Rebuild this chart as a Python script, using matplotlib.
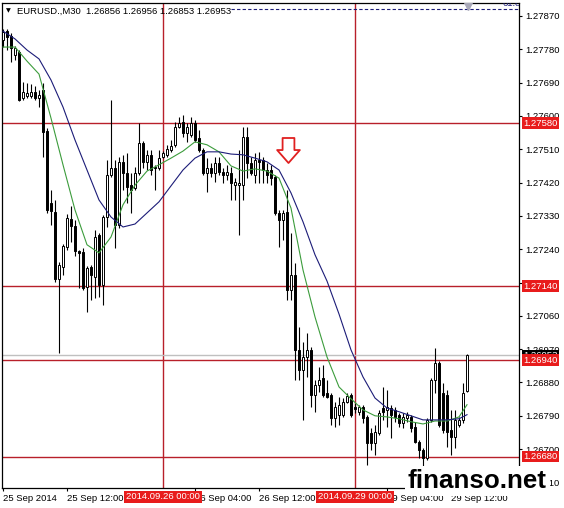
import matplotlib
matplotlib.use("Agg")
import matplotlib.pyplot as plt
from matplotlib.path import Path
from matplotlib.transforms import blended_transform_factory

plt.rcParams['font.family'] = ['Liberation Sans', 'DejaVu Sans']

# EURUSD M30, 25 Sep 04:00 .. 29 Sep 14:00 (bar index 0..116)
opens = [1.27805, 1.27829, 1.27816, 1.27765, 1.27773, 1.27648, 1.27654, 1.27654, 1.27665, 1.27648,
         1.27670, 1.27559, 1.27365, 1.27341, 1.27160, 1.27192, 1.27246, 1.27322, 1.27303, 1.27235,
         1.27233, 1.27138, 1.27192, 1.27165, 1.27279, 1.27144, 1.27327, 1.27441, 1.27459, 1.27306,
         1.27476, 1.27446, 1.27413, 1.27405, 1.27446, 1.27527, 1.27476, 1.27495, 1.27462, 1.27459,
         1.27489, 1.27495, 1.27508, 1.27522, 1.27570, 1.27584, 1.27554, 1.27549, 1.27581, 1.27540,
         1.27508, 1.27446, 1.27459, 1.27446, 1.27473, 1.27449, 1.27441, 1.27446, 1.27413, 1.27413,
         1.27413, 1.27543, 1.27473, 1.27441, 1.27481, 1.27481, 1.27454, 1.27454, 1.27435, 1.27338,
         1.27319, 1.27341, 1.27130, 1.27171, 1.26968, 1.26914, 1.26949, 1.26968, 1.26847, 1.26874,
         1.26892, 1.26852, 1.26847, 1.26784, 1.26793, 1.26793, 1.26828, 1.26847, 1.26814, 1.26801,
         1.26814, 1.26787, 1.26744, 1.26717, 1.26744, 1.26811, 1.26806, 1.26811, 1.26806, 1.26793,
         1.26771, 1.26784, 1.26787, 1.26760, 1.26720, 1.26698, 1.26676, 1.26779, 1.26887, 1.26933,
         1.26852, 1.26847, 1.26752, 1.26733, 1.26765, 1.26779, 1.26856]
highs = [1.27835, 1.27835, 1.27824, 1.27789, 1.27778, 1.27692, 1.27689, 1.27686, 1.27681, 1.27670,
         1.27689, 1.27567, 1.27400, 1.27373, 1.27206, 1.27254, 1.27335, 1.27357, 1.27319, 1.27238,
         1.27243, 1.27195, 1.27198, 1.27292, 1.27284, 1.27333, 1.27481, 1.27643, 1.27481, 1.27489,
         1.27495, 1.27500, 1.27446, 1.27462, 1.27581, 1.27532, 1.27508, 1.27508, 1.27468, 1.27508,
         1.27505, 1.27522, 1.27535, 1.27584, 1.27597, 1.27603, 1.27581, 1.27597, 1.27589, 1.27562,
         1.27513, 1.27486, 1.27473, 1.27489, 1.27489, 1.27459, 1.27468, 1.27462, 1.27432, 1.27508,
         1.27570, 1.27570, 1.27489, 1.27500, 1.27503, 1.27489, 1.27473, 1.27468, 1.27441, 1.27346,
         1.27346, 1.27400, 1.27284, 1.27203, 1.27030, 1.26990, 1.27014, 1.26976, 1.26887, 1.26922,
         1.26928, 1.26887, 1.26852, 1.26828, 1.26841, 1.26838, 1.26852, 1.26852, 1.26825, 1.26820,
         1.26820, 1.26793, 1.26757, 1.26765, 1.26806, 1.26868, 1.26860, 1.26820, 1.26814, 1.26798,
         1.26798, 1.26801, 1.26793, 1.26774, 1.26725, 1.26703, 1.26784, 1.26892, 1.26973, 1.26938,
         1.26879, 1.26860, 1.26806, 1.26806, 1.26787, 1.26879, 1.26956]
lows = [1.27786, 1.27778, 1.27746, 1.27751, 1.27640, 1.27643, 1.27648, 1.27648, 1.27643, 1.27624,
        1.27489, 1.27338, 1.27306, 1.27152, 1.26960, 1.27171, 1.27238, 1.27260, 1.27222, 1.27135,
        1.27130, 1.27071, 1.27103, 1.27108, 1.27111, 1.27090, 1.27300, 1.27435, 1.27243, 1.27297,
        1.27400, 1.27365, 1.27338, 1.27400, 1.27441, 1.27459, 1.27454, 1.27441, 1.27400, 1.27454,
        1.27486, 1.27489, 1.27503, 1.27516, 1.27567, 1.27543, 1.27530, 1.27543, 1.27530, 1.27503,
        1.27441, 1.27395, 1.27435, 1.27422, 1.27441, 1.27419, 1.27427, 1.27373, 1.27373, 1.27279,
        1.27373, 1.27432, 1.27441, 1.27419, 1.27419, 1.27419, 1.27419, 1.27413, 1.27333, 1.27246,
        1.27265, 1.27103, 1.27103, 1.26887, 1.26887, 1.26779, 1.26895, 1.26814, 1.26801, 1.26855,
        1.26841, 1.26838, 1.26765, 1.26760, 1.26765, 1.26787, 1.26825, 1.26787, 1.26798, 1.26793,
        1.26771, 1.26657, 1.26698, 1.26685, 1.26738, 1.26779, 1.26760, 1.26730, 1.26774, 1.26760,
        1.26757, 1.26774, 1.26747, 1.26717, 1.26676, 1.26622, 1.26671, 1.26774, 1.26852, 1.26760,
        1.26744, 1.26706, 1.26685, 1.26703, 1.26760, 1.26771, 1.26853]
closes = [1.27827, 1.27813, 1.27783, 1.27783, 1.27643, 1.27665, 1.27662, 1.27665, 1.27648, 1.27657,
          1.27557, 1.27346, 1.27343, 1.27160, 1.27198, 1.27249, 1.27324, 1.27303, 1.27235, 1.27230,
          1.27135, 1.27189, 1.27171, 1.27273, 1.27144, 1.27327, 1.27441, 1.27459, 1.27306, 1.27476,
          1.27446, 1.27408, 1.27400, 1.27446, 1.27527, 1.27476, 1.27495, 1.27454, 1.27459, 1.27486,
          1.27500, 1.27511, 1.27519, 1.27570, 1.27581, 1.27554, 1.27570, 1.27581, 1.27535, 1.27508,
          1.27446, 1.27459, 1.27446, 1.27473, 1.27449, 1.27441, 1.27449, 1.27419, 1.27422, 1.27419,
          1.27543, 1.27473, 1.27446, 1.27481, 1.27476, 1.27454, 1.27441, 1.27432, 1.27338, 1.27319,
          1.27338, 1.27130, 1.27171, 1.26968, 1.26914, 1.26949, 1.26968, 1.26847, 1.26874, 1.26887,
          1.26847, 1.26841, 1.26784, 1.26814, 1.26820, 1.26828, 1.26844, 1.26793, 1.26809, 1.26814,
          1.26784, 1.26717, 1.26717, 1.26747, 1.26798, 1.26801, 1.26814, 1.26793, 1.26787, 1.26771,
          1.26787, 1.26793, 1.26757, 1.26720, 1.26698, 1.26676, 1.26779, 1.26887, 1.26933, 1.26765,
          1.26752, 1.26747, 1.26733, 1.26779, 1.26779, 1.26852, 1.26953]

# moving averages every 3rd bar
ma_idx = list(range(0, 115, 3)) + [116]
ma_fast = [1.27786, 1.27786, 1.27748, 1.27713, 1.27594, 1.27468, 1.27346, 1.27252, 1.27230, 1.27273,
           1.27360, 1.27413, 1.27451, 1.27468, 1.27486, 1.27505, 1.27530, 1.27522, 1.27503, 1.27465,
           1.27451, 1.27457, 1.27451, 1.27432, 1.27351, 1.27184, 1.27057, 1.26949, 1.26868, 1.26836,
           1.26806, 1.26790, 1.26787, 1.26782, 1.26774, 1.26768, 1.26776, 1.26776, 1.26787, 1.26820]
ma_slow = [1.27829, 1.27808, 1.27778, 1.27754, 1.27697, 1.27624, 1.27535, 1.27454, 1.27373, 1.27327,
           1.27300, 1.27308, 1.27338, 1.27368, 1.27411, 1.27454, 1.27486, 1.27503, 1.27503, 1.27497,
           1.27495, 1.27486, 1.27476, 1.27454, 1.27392, 1.27314, 1.27225, 1.27154, 1.27065, 1.26968,
           1.26895, 1.26838, 1.26811, 1.26801, 1.26790, 1.26779, 1.26779, 1.26779, 1.26782, 1.26793]

levels = [1.27580, 1.27140, 1.26940, 1.26680]
vlines_bars = [40, 88]
vlines_labels = ["2014.09.26 00:00", "2014.09.29 00:00"]
bid = 1.26953
fib_price = 1.27889
fib_start = 57

# 25 Sep 20:00 and 26 Sep 20:00 sit fully under the red date boxes
tick_bars = [0, 16, 48, 64, 96, 112]
tick_labels = ["25 Sep 2014", "25 Sep 12:00", "26 Sep 04:00",
               "26 Sep 12:00", "29 Sep 04:00", "29 Sep 12:00"]
price_ticks = [1.26610 + 0.0009 * k for k in range(15)]

red_line = '#b8202a'
red_box = '#e81c1c'
navy = '#1c1c78'
green = '#3c9c3c'

fig = plt.figure(figsize=(5.64, 5.08), dpi=100)
ax = fig.add_axes([2 / 564, 20 / 508, 517 / 564, 485 / 508])
ax.set_xlim(-0.25, 129.0)
ax.set_ylim(1.26595, 1.27905)

for s in ax.spines.values():
    s.set_color('black')
    s.set_linewidth(0.9)

# red level lines
for p in levels:
    ax.axhline(p, color=red_line, lw=1.0, zorder=1)
for b in vlines_bars:
    ax.axvline(b, color=red_line, lw=1.0, zorder=1)
ax.axhline(bid, color='#c0c0c0', lw=1.0, zorder=1)
ax.plot([fib_start, 129], [fib_price, fib_price], color=navy, lw=0.8,
        dashes=(3, 2), zorder=1)

# candles
bars = list(range(len(opens)))
ax.vlines(bars, lows, highs, color='black', lw=0.8, zorder=3)
body_h = [c - o for o, c in zip(opens, closes)]
colors = ['white' if c >= o else 'black' for o, c in zip(opens, closes)]
ax.bar(bars, body_h, bottom=opens, width=0.6, color=colors,
       edgecolor='black', linewidth=0.7, zorder=4)

# moving averages
ax.plot(ma_idx, ma_fast, color=green, lw=0.8, zorder=5)
ax.plot(ma_idx, ma_slow, color=navy, lw=0.8, zorder=5)

# down arrow
arrow = Path([(-0.26, 0.55), (0.26, 0.55), (0.26, 0.02), (0.5, 0.02),
              (0.0, -0.55), (-0.5, 0.02), (-0.26, 0.02), (-0.26, 0.55)],
             [Path.MOVETO] + [Path.LINETO] * 6 + [Path.CLOSEPOLY])
ax.plot([71.25], [1.27508], marker=arrow, markersize=18, mfc='white',
        mec='#e02020', mew=1.3, zorder=6)

# top markers
ax.plot([116.25], [1.27898], marker='v', markersize=6, color='#a8a8b8', zorder=6)
ax.text(124.8, 1.27905, "61.8", color=navy, fontsize=6.8, ha='left', va='center',
        clip_on=True, zorder=6)
ax.text(0.012, 0.9835, "\u25BC", transform=ax.transAxes, fontsize=4.5,
        ha='center', va='center', family='DejaVu Sans')
ax.text(0.029, 0.9835, "EURUSD.,M30  1.26856 1.26956 1.26853 1.26953",
        transform=ax.transAxes, fontsize=6.8, ha='left', va='center')

# axes ticks
ax.yaxis.tick_right()
ax.set_yticks(price_ticks)
ax.set_yticklabels(["%.5f" % p for p in price_ticks])
ax.tick_params(axis='y', direction='out', length=2.5, width=0.8, pad=2,
               labelsize=6.8, colors='black')
ax.set_xticks(tick_bars)
ax.set_xticklabels(tick_labels)
for lbl in ax.get_xticklabels():
    lbl.set_ha('left')
ax.tick_params(axis='x', direction='out', length=2.5, width=0.8, pad=1.5,
               labelsize=6.8, colors='black')

# price labels on the right axis
tr = blended_transform_factory(ax.transAxes, ax.transData)
ax.text(1.008, bid, "%.5f" % bid, transform=tr, color='white', fontsize=6.8,
        ha='left', va='center', clip_on=False, zorder=7,
        bbox=dict(boxstyle='square,pad=0.15', fc='black', ec='none'))
for p in levels:
    ax.text(1.008, p, "%.5f" % p, transform=tr, color='white', fontsize=6.8,
            ha='left', va='center', clip_on=False, zorder=8,
            bbox=dict(boxstyle='square,pad=0.15', fc=red_box, ec='none'))

# time labels at the vertical lines
trx = blended_transform_factory(ax.transData, ax.transAxes)
for b, lab in zip(vlines_bars, vlines_labels):
    ax.text(b, -0.0185, lab, transform=trx, color='white', fontsize=6.8,
            ha='center', va='center', clip_on=False, zorder=8,
            bbox=dict(boxstyle='square,pad=0.2', fc=red_box, ec='none'))

# watermark
fig.text(408 / 564, 20 / 508, "finanso.net", fontsize=18.7, fontweight='bold',
         color='black', ha='left', va='baseline',
         bbox=dict(boxstyle='square,pad=0.1', fc='white', ec='none'))

fig.savefig("out.png", dpi=100, facecolor='white')
